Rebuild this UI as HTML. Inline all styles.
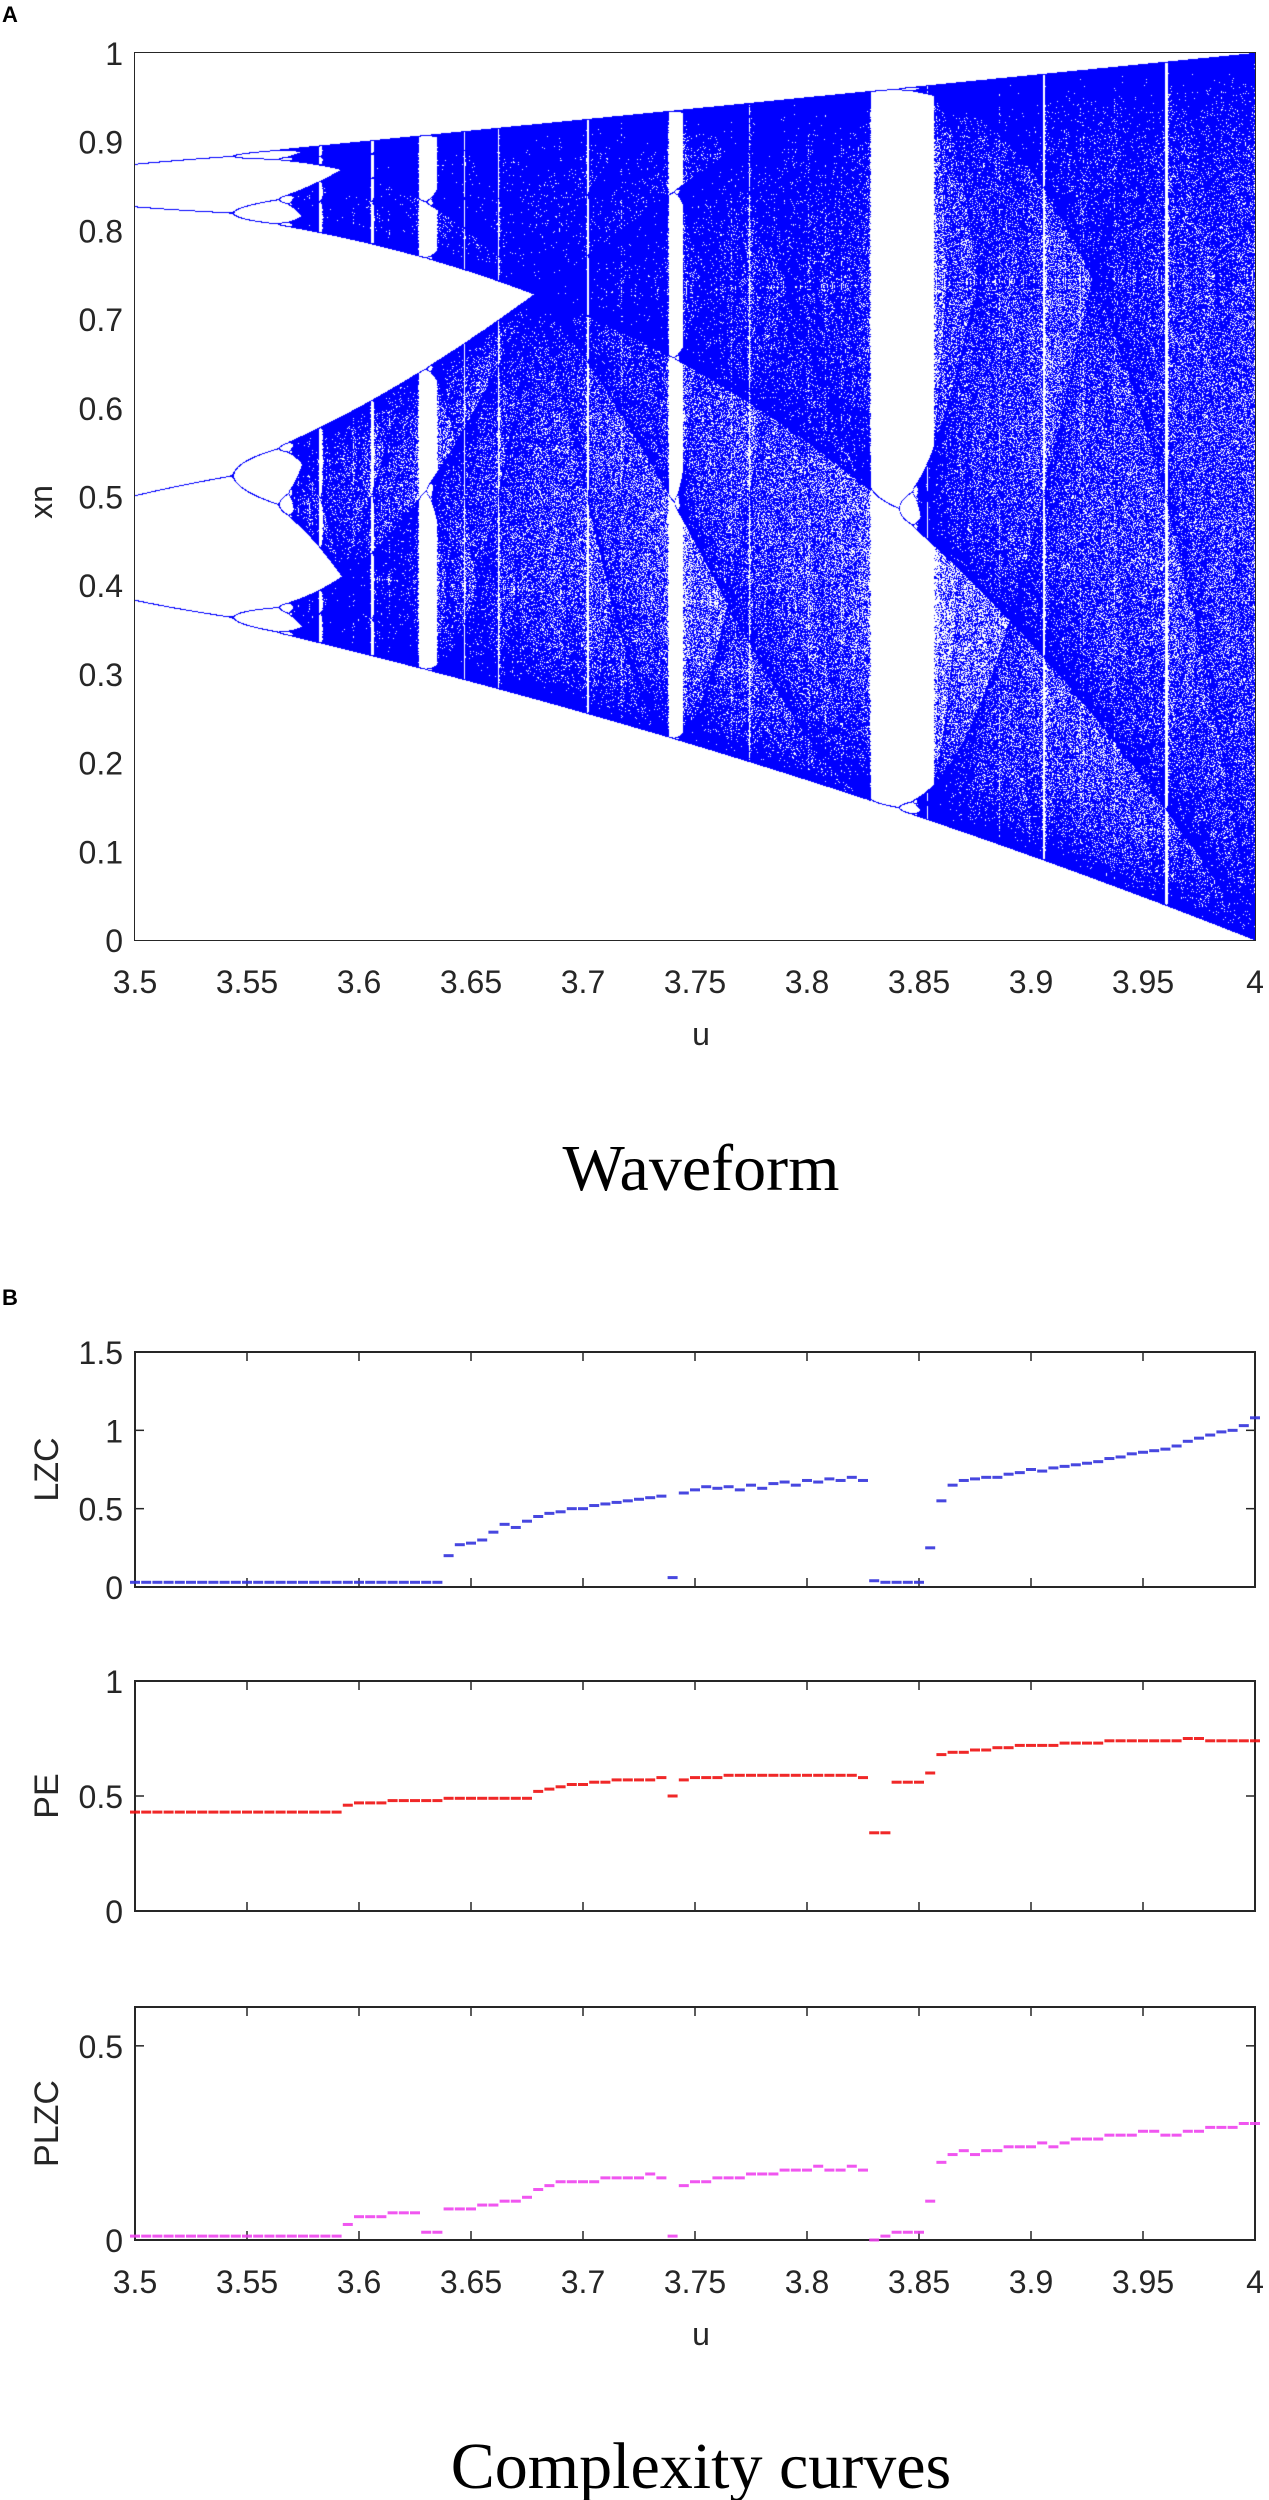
<!DOCTYPE html>
<html><head><meta charset="utf-8"><style>
body{margin:0;background:#fff;width:1269px;height:2500px;overflow:hidden;position:relative;font-family:"Liberation Sans",sans-serif}
.t{position:absolute;color:#262626;font-size:32px;white-space:nowrap}
</style></head><body>
<div class="t" style="left:2px;top:2px;font-size:22px;font-weight:bold;color:#000">A</div>
<div class="t" style="left:2px;top:1285px;font-size:22px;font-weight:bold;color:#000">B</div>
<svg id="svg" width="1269" height="2500" style="position:absolute;left:0;top:0"></svg>
<canvas id="bif" width="1120" height="887" style="position:absolute;left:135px;top:53px"></canvas>
<script>
// u axis
const uTicks=[3.5,3.55,3.6,3.65,3.7,3.75,3.8,3.85,3.9,3.95,4];
const uTickLabels=["3.5","3.55","3.6","3.65","3.7","3.75","3.8","3.85","3.9","3.95","4"];
const xnTicks=[0,0.1,0.2,0.3,0.4,0.5,0.6,0.7,0.8,0.9,1];
const xnTickLabels=["0","0.1","0.2","0.3","0.4","0.5","0.6","0.7","0.8","0.9","1"];
const uRange=[3.5,4];
// complexity series sampled at u = 3.5 + 0.005*i
const uStart=3.5, uStep=0.005;
const lzc=[0.03,0.03,0.03,0.03,0.03,0.03,0.03,0.03,0.03,0.03,0.03,0.03,0.03,0.03,0.03,0.03,0.03,0.03,0.03,0.03,0.03,0.03,0.03,0.03,0.03,0.03,0.03,0.03,
0.2,0.27,0.28,0.3,0.35,0.4,0.38,0.42,0.45,0.47,0.48,0.5,0.5,0.52,0.53,0.54,0.55,0.56,0.57,0.58,0.06,0.6,0.62,0.64,0.63,0.64,0.62,0.65,0.63,0.66,0.67,0.65,0.68,0.67,0.69,0.68,0.7,0.68,
0.04,0.03,0.03,0.03,0.03,0.25,0.55,0.65,0.68,0.69,0.7,0.7,0.72,0.73,0.75,0.74,0.76,0.77,0.78,0.79,0.8,0.82,0.83,0.85,0.86,0.87,0.88,0.9,0.93,0.95,0.97,0.99,1.0,1.03,1.08];
const pe=[0.43,0.43,0.43,0.43,0.43,0.43,0.43,0.43,0.43,0.43,0.43,0.43,0.43,0.43,0.43,0.43,0.43,0.43,0.43,0.46,0.47,0.47,0.47,0.48,0.48,0.48,0.48,0.48,0.49,0.49,0.49,0.49,0.49,0.49,0.49,0.49,
0.52,0.53,0.54,0.55,0.55,0.56,0.56,0.57,0.57,0.57,0.57,0.58,0.5,0.57,0.58,0.58,0.58,0.59,0.59,0.59,0.59,0.59,0.59,0.59,0.59,0.59,0.59,0.59,0.59,0.58,
0.34,0.34,0.56,0.56,0.56,0.6,0.68,0.69,0.69,0.7,0.7,0.71,0.71,0.72,0.72,0.72,0.72,0.73,0.73,0.73,0.73,0.74,0.74,0.74,0.74,0.74,0.74,0.74,0.75,0.75,0.74,0.74,0.74,0.74,0.74];
const plzc=[0.01,0.01,0.01,0.01,0.01,0.01,0.01,0.01,0.01,0.01,0.01,0.01,0.01,0.01,0.01,0.01,0.01,0.01,0.01,0.04,0.06,0.06,0.06,0.07,0.07,0.07,0.02,0.02,
0.08,0.08,0.08,0.09,0.09,0.1,0.1,0.11,0.13,0.14,0.15,0.15,0.15,0.15,0.16,0.16,0.16,0.16,0.17,0.16,0.01,0.14,0.15,0.15,0.16,0.16,0.16,0.17,0.17,0.17,0.18,0.18,0.18,0.19,0.18,0.18,0.19,0.18,
0.0,0.01,0.02,0.02,0.02,0.1,0.2,0.22,0.23,0.22,0.23,0.23,0.24,0.24,0.24,0.25,0.24,0.25,0.26,0.26,0.26,0.27,0.27,0.27,0.28,0.28,0.27,0.27,0.28,0.28,0.29,0.29,0.29,0.3,0.3];
const panels=[
 {name:"lzc",label:"LZC",vals:lzc,color:"#3333dd",top:1352,bottom:1587,ymax:1.5,ticks:[0,0.5,1,1.5],tickLabels:["0","0.5","1","1.5"]},
 {name:"pe",label:"PE",vals:pe,color:"#ee1111",top:1681,bottom:1911,ymax:1,ticks:[0,0.5,1],tickLabels:["0","0.5","1"]},
 {name:"plzc",label:"PLZC",vals:plzc,color:"#ee44ee",top:2007,bottom:2240,ymax:0.6,ticks:[0,0.5],tickLabels:["0","0.5"]}
];
const L=135,R=1255;
const svg=document.getElementById('svg');const NS="http://www.w3.org/2000/svg";
function mk(tag,attrs,parent){const e=document.createElementNS(NS,tag);for(const k in attrs)e.setAttribute(k,attrs[k]);(parent||svg).appendChild(e);return e;}
const xS=u=>L+(u-uRange[0])/(uRange[1]-uRange[0])*(R-L);
function txt(x,y,s,name,extra){const t=mk('text',Object.assign({x:x,y:y,'font-size':32,fill:'#262626','font-family':'Liberation Sans, sans-serif'},extra||{}));t.textContent=s;


return t;}
function axes(top,bottom,ymax,ticks,labels,pname,xlabels){
 const yS=v=>bottom-v/ymax*(bottom-top);
 const box=mk('rect',{x:L,y:top,width:R-L,height:bottom-top,fill:'none',stroke:'#262626','stroke-width':2});
 
 
 uTicks.forEach((u,i)=>{const x=xS(u);mk('line',{x1:x,x2:x,y1:bottom,y2:bottom-9,stroke:'#262626','stroke-width':1.5});mk('line',{x1:x,x2:x,y1:top,y2:top+9,stroke:'#262626','stroke-width':1.5});
  if(xlabels)txt(x,bottom+53,uTickLabels[i],pname+'-x-tick-label',{'text-anchor':'middle'});});
 ticks.forEach((v,i)=>{const y=yS(v);mk('line',{x1:L,x2:L+9,y1:y,y2:y,stroke:'#262626','stroke-width':1.5});mk('line',{x1:R,x2:R-9,y1:y,y2:y,stroke:'#262626','stroke-width':1.5});
  txt(L-12,y+12,labels[i],pname+'-y-tick-label',{'text-anchor':'end'});});
 return yS;
}
// Panel A
axes(53,940,1,xnTicks,xnTickLabels,'waveform',true);
txt(701,1045,'u','waveform-x-axis-title',{'text-anchor':'middle'});
txt(52,502,'xn','waveform-y-axis-title',{'text-anchor':'middle',transform:'rotate(-90 52 502)'});
txt(701,1190,'Waveform','waveform-caption',{'text-anchor':'middle','font-size':66,fill:'#000','font-family':'Liberation Serif, serif'});
// Panel B
panels.forEach((p,pi)=>{
 const last=pi===panels.length-1;
 const yS=axes(p.top,p.bottom,p.ymax,p.ticks,p.tickLabels,p.name,last);
 const cy=(p.top+p.bottom)/2;
 txt(58,cy,p.label,p.name+'-y-axis-title',{'text-anchor':'middle',transform:'rotate(-90 58 '+cy+')','font-size':34});
 const g=mk('g',{});
 
 
 p.vals.forEach((v,i)=>{const u=uStart+i*uStep;const x=xS(u),y=yS(v);
  const r=mk('rect',{x:x-5,y:y-1.5,width:10,height:3,fill:p.color,opacity:0.9},g);
  
  
 });
});
txt(701,2345,'u','complexity-x-axis-title',{'text-anchor':'middle'});
txt(701,2488,'Complexity curves','complexity-caption',{'text-anchor':'middle','font-size':66,fill:'#000','font-family':'Liberation Serif, serif'});
// bifurcation diagram of the logistic map x -> u x (1-x)
(function(){
 const c=document.getElementById('bif');const ctx=c.getContext('2d');
 const W=c.width,H=c.height;const img=ctx.createImageData(W,H);const d=img.data;
 for(let i=0;i<d.length;i+=4){d[i]=255;d[i+1]=255;d[i+2]=255;d[i+3]=255;}
 for(let px=0;px<W;px++){
  for(let s=0;s<2;s++){
   const u=uRange[0]+(px+s*0.5)/(W-1)*(uRange[1]-uRange[0]);
   let x=0.4+0.1*s;
   for(let k=0;k<300;k++)x=u*x*(1-x);
   for(let k=0;k<900;k++){x=u*x*(1-x);const py=Math.round((1-x)*(H-1));
    const o=(py*W+px)*4;d[o]=0;d[o+1]=0;d[o+2]=255;}
  }
 }
 ctx.putImageData(img,0,0);
})();
</script>
</body></html>
